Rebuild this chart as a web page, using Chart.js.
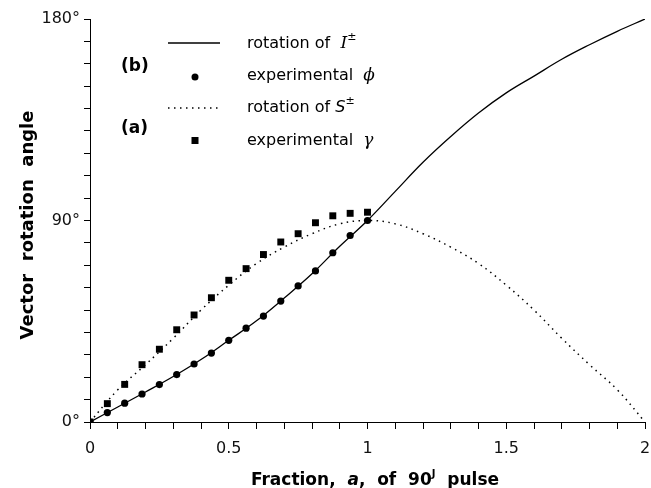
<!DOCTYPE html>
<html>
<head>
<meta charset="utf-8">
<script src="https://cdn.jsdelivr.net/npm/chart.js@4.4.1/dist/chart.umd.min.js"></script>
<style>
  body { margin: 0; background: #fff; }
  #wrap { width: 651px; height: 488px; }
</style>
</head>
<body>
<div id="wrap"><canvas id="rotChart" width="651" height="488"></canvas></div>
<script>
// theory curves, a = 0 .. 2 in steps of 0.1
const curveA = [0, 0.1, 0.2, 0.3, 0.4, 0.5, 0.6, 0.7, 0.8, 0.9, 1, 1.1, 1.2, 1.3, 1.4, 1.5, 1.6, 1.7, 1.8, 1.9, 2];
const rotI = [0, 6.7, 13.4, 20.3, 27.9, 36.5, 45.2, 55.4, 66.2, 78.5, 90, 103, 116, 127.5, 138, 147, 154.5, 162, 168.5, 174.5, 180];
const rotS = [0, 14.4, 25.6, 37.4, 50, 61.1, 70.8, 78.1, 84.1, 88.5, 90, 88.5, 84.1, 78.1, 70.8, 61.1, 50, 37.4, 25.6, 14.4, 0];

// experimental points, a = 0 .. 1 in steps of 1/16
const expA = [0, 0.0625, 0.125, 0.1875, 0.25, 0.3125, 0.375, 0.4375, 0.5, 0.5625, 0.625, 0.6875, 0.75, 0.8125, 0.875, 0.9375, 1];
const expPhi = [0, 4.2, 8.4, 12.5, 16.7, 21.2, 25.9, 30.8, 36.5, 41.9, 47.3, 54, 60.8, 67.5, 75.6, 83.3, 90];
const expGamma = [0, 8.2, 16.8, 25.6, 32.5, 41.2, 47.8, 55.5, 63.3, 68.5, 74.8, 80.4, 84.1, 89, 92.1, 93.2, 93.7];

const xLabelled = [0, 0.5, 1, 1.5, 2];
const yLabelled = [0, 90, 180];

const toPts = (xs, ys) => xs.map((x, i) => ({ x: x, y: ys[i] }));

const TICK_FONT = { family: 'DejaVu Sans', size: 16 };
const TXT = '16px "DejaVu Sans"';
const BOLD = 'bold 17px "DejaVu Sans"';
const SERIF_I = 'italic 17px "DejaVu Serif"';

function drawParts(ctx, x, y, parts, center) {
  let w = 0;
  parts.forEach(p => { ctx.font = p.font; w += ctx.measureText(p.t).width; });
  let cx = center ? x - w / 2 : x;
  parts.forEach(p => {
    ctx.font = p.font;
    ctx.fillText(p.t, cx, y + (p.dy || 0));
    cx += ctx.measureText(p.t).width;
  });
}

// legend, panel labels and axis titles
const annotate = {
  id: 'annotate',
  afterDraw(chart) {
    const ctx = chart.ctx;
    ctx.save();
    ctx.fillStyle = '#000';
    ctx.strokeStyle = '#000';
    ctx.textAlign = 'left';
    ctx.textBaseline = 'alphabetic';

    // legend samples
    ctx.lineWidth = 1.3;
    ctx.beginPath(); ctx.moveTo(168, 43); ctx.lineTo(220, 43); ctx.stroke();
    ctx.setLineDash([1.5, 4.5]);
    ctx.beginPath(); ctx.moveTo(168, 108); ctx.lineTo(220, 108); ctx.stroke();
    ctx.setLineDash([]);
    ctx.beginPath(); ctx.arc(195, 77, 3.5, 0, Math.PI * 2); ctx.fill();
    ctx.fillRect(191.5, 137, 7, 7);

    drawParts(ctx, 247, 48, [{ t: 'rotation of  ', font: TXT }, { t: 'I', font: SERIF_I }, { t: '±', font: '11px "DejaVu Sans"', dy: -8 }]);
    drawParts(ctx, 247, 80, [{ t: 'experimental  ', font: TXT }, { t: 'ϕ', font: SERIF_I }]);
    drawParts(ctx, 247, 112, [{ t: 'rotation of ', font: TXT }, { t: 'S', font: 'italic 16px "DejaVu Sans"' }, { t: '±', font: '11px "DejaVu Sans"', dy: -8 }]);
    drawParts(ctx, 247, 145, [{ t: 'experimental  ', font: TXT }, { t: 'γ', font: SERIF_I }]);

    ctx.font = BOLD;
    ctx.fillText('(b)', 121, 71);
    ctx.fillText('(a)', 121, 133);

    // x title
    drawParts(ctx, 375, 485, [
      { t: 'Fraction,  ', font: BOLD },
      { t: 'a', font: 'bold italic 17px "DejaVu Sans"' },
      { t: ',  of  90', font: BOLD },
      { t: 'J', font: 'bold 10px "DejaVu Sans"', dy: -8 },
      { t: '  pulse', font: BOLD }
    ], true);

    // y title
    ctx.translate(28, 225);
    ctx.rotate(-Math.PI / 2);
    ctx.textAlign = 'center';
    ctx.textBaseline = 'middle';
    ctx.font = 'bold 18px "DejaVu Sans"';
    ctx.fillText('Vector  rotation  angle', 0, 0);
    ctx.restore();
  }
};

const rotChart = new Chart(document.getElementById('rotChart'), {
  type: 'scatter',
  data: {
    datasets: [
      {
        label: 'experimental φ',
        data: toPts(expA, expPhi),
        pointStyle: 'circle',
        pointRadius: 3.6,
        backgroundColor: '#000',
        borderColor: '#000',
        borderWidth: 0,
        order: 0
      },
      {
        label: 'experimental γ',
        data: toPts(expA, expGamma),
        pointStyle: 'rect',
        pointRadius: 4.9,
        backgroundColor: '#000',
        borderColor: '#000',
        borderWidth: 0,
        order: 0
      },
      {
        label: 'rotation of I±',
        data: toPts(curveA, rotI),
        showLine: true,
        pointRadius: 0,
        borderColor: '#000',
        borderWidth: 1.3,
        tension: 0.4,
        order: 1
      },
      {
        label: 'rotation of S±',
        data: toPts(curveA, rotS),
        showLine: true,
        pointRadius: 0,
        borderColor: '#000',
        borderWidth: 1.5,
        borderDash: [1.5, 4.5],
        tension: 0.4,
        order: 1
      }
    ]
  },
  options: {
    responsive: false,
    animation: false,
    layout: { padding: { left: 0, right: 6, top: 19, bottom: 0 } },
    plugins: { legend: { display: false }, tooltip: { enabled: false } },
    scales: {
      x: {
        type: 'linear',
        min: 0,
        max: 2,
        border: { display: true, color: '#000', width: 1 },
        grid: { drawOnChartArea: false, drawTicks: true, tickLength: 7, color: '#000' },
        ticks: {
          stepSize: 0.1,
          autoSkip: false,
          maxRotation: 0,
          padding: 10,
          color: '#111',
          font: TICK_FONT,
          callback: v => xLabelled.some(l => Math.abs(l - v) < 1e-6) ? String(Math.round(v * 10) / 10) : ''
        },
        afterFit: s => { s.height = 66; s.paddingLeft = 0; s.paddingRight = 0; }
      },
      y: {
        type: 'linear',
        min: 0,
        max: 180,
        border: { display: true, color: '#000', width: 1 },
        grid: { drawOnChartArea: false, drawTicks: true, tickLength: 6, color: '#000' },
        ticks: {
          stepSize: 10,
          autoSkip: false,
          padding: 4,
          color: '#111',
          font: TICK_FONT,
          callback: v => yLabelled.includes(v) ? v + '°' : ''
        },
        afterFit: s => { s.width = 90; s.paddingTop = 0; s.paddingBottom = 0; }
      }
    }
  },
  plugins: [annotate]
});
</script>
</body>
</html>
